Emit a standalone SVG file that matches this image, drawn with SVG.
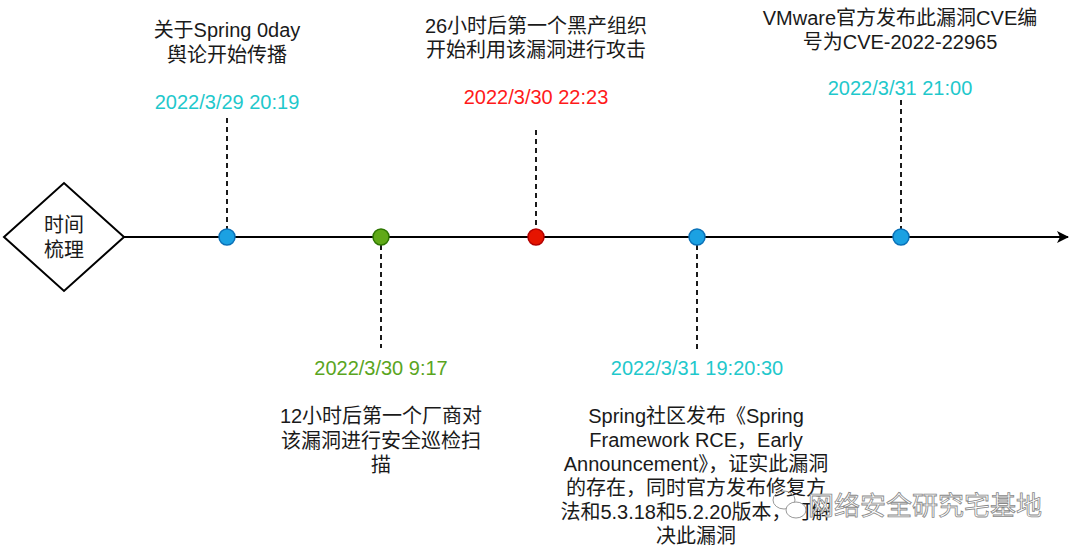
<svg xmlns="http://www.w3.org/2000/svg" width="1080" height="552" viewBox="0 0 1080 552">
<style>
text{font-family:"Liberation Sans","Noto Sans CJK SC",sans-serif;font-size:20px;text-anchor:middle;fill:#1a1a1a}
.cyan{fill:#1fc8cc}.green{fill:#5aa51e}.red{fill:#ff1a1a}
.dash{stroke:#1a1a1a;stroke-width:2;stroke-dasharray:5 4;fill:none}
.blue{fill:#1ba1e2;stroke:#0a71b8;stroke-width:1.5}
.gdot{fill:#60a917;stroke:#2d7600;stroke-width:1.5}
.rdot{fill:#e51400;stroke:#b20000;stroke-width:1.5}
.wm{fill:#fff;stroke:#888;stroke-width:0.8;font-size:26px;text-anchor:start}
</style>
<defs>
<marker id="arr" viewBox="0 0 12 12" refX="11" refY="6" markerWidth="12" markerHeight="12" markerUnits="userSpaceOnUse" orient="auto">
<path d="M0,0 L12,6 L0,12 L3,6 Z" fill="#000"/>
</marker>
</defs>
<rect width="1080" height="552" fill="#fff"/>
<g id="connectors">
<line x1="124" y1="237" x2="1068" y2="237" stroke="#000" stroke-width="2" marker-end="url(#arr)"/>
<line class="dash" x1="227" y1="118" x2="227" y2="229"/>
<line class="dash" x1="381" y1="245" x2="381" y2="348"/>
<line class="dash" x1="536" y1="130" x2="536" y2="229"/>
<line class="dash" x1="697" y1="245" x2="697" y2="350"/>
<line class="dash" x1="901" y1="100" x2="901" y2="229"/>
</g>
<g id="start">
<polygon points="4,237 64,183 124,237 64,291" fill="#fff" stroke="#000" stroke-width="2"/>
<text x="64" y="232">时间</text>
<text x="64" y="257">梳理</text>
</g>
<g id="event1">
<circle class="blue" cx="227" cy="237" r="8"/>
<text x="227" y="37">关于Spring 0day</text>
<text x="227" y="62">舆论开始传播</text>
<text class="cyan" x="227" y="109">2022/3/29 20:19</text>
</g>
<g id="event2">
<circle class="gdot" cx="381" cy="237" r="8"/>
<text class="green" x="381" y="375">2022/3/30 9:17</text>
<text x="381" y="423">12小时后第一个厂商对</text>
<text x="381" y="448">该漏洞进行安全巡检扫</text>
<text x="381" y="472">描</text>
</g>
<g id="event3">
<circle class="rdot" cx="536" cy="237" r="8"/>
<text x="536" y="33">26小时后第一个黑产组织</text>
<text x="536" y="57">开始利用该漏洞进行攻击</text>
<text class="red" x="536" y="104">2022/3/30 22:23</text>
</g>
<g id="event4">
<circle class="blue" cx="697" cy="237" r="8"/>
<text class="cyan" x="697" y="375">2022/3/31 19:20:30</text>
<text x="696" y="423">Spring社区发布《Spring</text>
<text x="696" y="447">Framework RCE，Early</text>
<text x="696" y="471">Announcement》，证实此漏洞</text>
<text x="696" y="495">的存在，同时官方发布修复方</text>
<text x="696" y="519">法和5.3.18和5.2.20版本，可解</text>
<text x="696" y="543">决此漏洞</text>
</g>
<g id="event5">
<circle class="blue" cx="901" cy="237" r="8"/>
<text x="900" y="25">VMware官方发布此漏洞CVE编</text>
<text x="900" y="49">号为CVE-2022-22965</text>
<text class="cyan" x="900" y="95">2022/3/31 21:00</text>
</g>
<g id="watermark">
<ellipse cx="784" cy="500" rx="11" ry="9" fill="none" stroke="#999" stroke-width="1"/>
<ellipse cx="796" cy="510" rx="10" ry="8" fill="#fff" stroke="#999" stroke-width="1"/>
<text class="wm" x="808" y="515">网络安全研究宅基地</text>
</g>
</svg>
